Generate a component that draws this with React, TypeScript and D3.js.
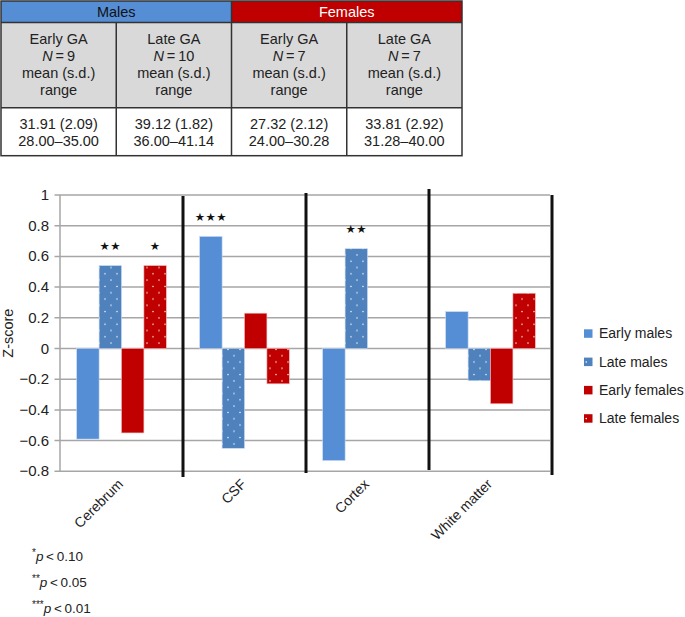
import React from "react";
import * as d3 from "d3";

// ---------- data ----------
const categories = ["Cerebrum", "CSF", "Cortex", "White matter"];
const seriesNames = ["Early males", "Late males", "Early females", "Late females"];
const earlyMales = [-0.59, 0.73, -0.73, 0.24];
const lateMales = [0.54, -0.65, 0.65, -0.21];
const earlyFemales = [-0.55, 0.23, 0, -0.36];
const lateFemales = [0.54, -0.23, 0, 0.36];
// significance stars [category][series]
const significance = [
  ["", "**", "", "*"],
  ["***", "", "", ""],
  ["", "**", "", ""],
  ["", "", "", ""],
];
const footnotes = [
  { stars: "*", p: "0.10" },
  { stars: "**", p: "0.05" },
  { stars: "***", p: "0.01" },
];

// table data
const groups = ["Males", "Females"];
const gaLabels = ["Early GA", "Late GA", "Early GA", "Late GA"];
const nValues = ["9", "10", "7", "7"];
const means = ["31.91 (2.09)", "39.12 (1.82)", "27.32 (2.12)", "33.81 (2.92)"];
const ranges = ["28.00–35.00", "36.00–41.14", "24.00–30.28", "31.28–40.00"];

const seriesValues = [earlyMales, lateMales, earlyFemales, lateFemales];
const seriesFill = ["#558ed5", "url(#dotBlue)", "#c00000", "url(#dotRed)"];
const FONT = "'Liberation Sans', Arial, Helvetica, sans-serif";
const NARROW = "'Liberation Sans Narrow', 'Liberation Sans', Arial, sans-serif";

export default function App() {
  const W = 685, H = 617;
  // table geometry
  const tX0 = 1, tX1 = 462;
  const colX = d3.scaleBand<number>().domain([0, 1, 2, 3]).range([tX0, tX1]);
  const grpX = d3.scaleBand<number>().domain([0, 1]).range([tX0, tX1]);
  const hY0 = 1, hY1 = 22.5, gY1 = 107.7, tY1 = 155.7;

  // chart geometry
  const x = d3.scaleBand<string>().domain(categories).range([60, 552]);
  const xi = d3.scaleBand<number>().domain([0, 1, 2, 3]).range([0, x.bandwidth()]).paddingOuter(0.745);
  const y = d3.scaleLinear().domain([-0.8, 1]).range([471.3, 195]);
  const ticks = y.ticks(10);
  const fmt = d3.format("~g");
  const sepExt = [[196, 477], [193, 473], [189, 470], [195, 475]];

  return (
    <svg width={W} height={H} style={{ position: "absolute", left: 0, top: 0 }} fontFamily={FONT}>
      <defs>
        <pattern id="dotBlue" width="12" height="12.6" patternUnits="userSpaceOnUse">
          <rect width="12" height="12.6" fill="#4f81bd" />
          <circle cx="3" cy="3" r="0.75" fill="#ffffff" />
          <circle cx="9" cy="9.3" r="0.75" fill="#ffffff" />
        </pattern>
        <pattern id="dotRed" width="12" height="12.6" patternUnits="userSpaceOnUse">
          <rect width="12" height="12.6" fill="#c00000" />
          <circle cx="3" cy="3" r="0.75" fill="#ffffff" />
          <circle cx="9" cy="9.3" r="0.75" fill="#ffffff" />
        </pattern>
      </defs>
      <rect width={W} height={H} fill="#fff" />

      {/* ---------- table ---------- */}
      <g fontSize={14.5} fill="#222" fontFamily={NARROW}>
        {groups.map((g, i) => (
          <g key={g}>
            <rect x={grpX(i)} y={hY0} width={grpX.bandwidth()} height={hY1 - hY0} fill={i === 0 ? "#558ed5" : "#c00000"} />
            <text x={(grpX(i) as number) + grpX.bandwidth() / 2} y={(hY0 + hY1) / 2 + 5} textAnchor="middle" fill={i === 0 ? "#111" : "#fff"}>{g}</text>
          </g>
        ))}
        <rect x={tX0} y={hY1} width={tX1 - tX0} height={gY1 - hY1} fill="#d9d9d9" />
        {gaLabels.map((lab, i) => {
          const cx = (colX(i) as number) + colX.bandwidth() / 2;
          return (
            <g key={i} textAnchor="middle">
              <text x={cx} y={43.5}>{lab}</text>
              <text x={cx} y={60.5}><tspan fontStyle="italic">N</tspan>{"\u2009=\u2009" + nValues[i]}</text>
              <text x={cx} y={77.5}>mean (s.d.)</text>
              <text x={cx} y={94.5}>range</text>
              <text x={cx} y={129}>{means[i]}</text>
              <text x={cx} y={146}>{ranges[i]}</text>
            </g>
          );
        })}
        {/* borders */}
        <g stroke="#333" strokeWidth={1.5} fill="none">
          <rect x={tX0} y={hY0} width={tX1 - tX0} height={tY1 - hY0} />
          <line x1={tX0} x2={tX1} y1={hY1} y2={hY1} />
          <line x1={tX0} x2={tX1} y1={gY1} y2={gY1} />
          {[1, 2, 3].map((i) => (
            <line key={i} x1={colX(i)} x2={colX(i)} y1={i === 2 ? hY0 : hY1} y2={tY1} />
          ))}
        </g>
      </g>

      {/* ---------- chart ---------- */}
      <g>
        {/* gridlines */}
        {ticks.map((t) => (
          <line key={t} x1={54.5} x2={550} y1={y(t)} y2={y(t)} stroke="#a6a6a6" strokeWidth={1.5} />
        ))}
        {/* y axis */}
        <line x1={60} x2={60} y1={y(1)} y2={y(-0.8)} stroke="#a6a6a6" strokeWidth={1.5} />
        {ticks.map((t) => (
          <text key={t} x={49} y={y(t) + 5} textAnchor="end" fontSize={15} fill="#222">{fmt(t)}</text>
        ))}
        <text transform={`translate(13,${(y(1) + y(-0.8)) / 2}) rotate(-90)`} textAnchor="middle" fontSize={14.5} fill="#222">Z-score</text>
        {/* x axis ticks at zero */}
        {categories.map((c) => (
          <line key={c} x1={(x(c) as number) + x.bandwidth()} x2={(x(c) as number) + x.bandwidth()} y1={y(0)} y2={y(0) + 4} stroke="#a6a6a6" strokeWidth={1.5} />
        ))}
        {/* bars */}
        {categories.map((c, ci) => (
          <g key={c} transform={`translate(${x(c)},0)`}>
            {seriesValues.map((vals, si) => {
              const v = vals[ci];
              if (v === 0) return null;
              const y0 = y(Math.max(0, v));
              const h = Math.abs(y(v) - y(0));
              return (
                <rect key={si} x={xi(si)} y={y0} width={xi.bandwidth()} height={h} fill={seriesFill[si]}
                  stroke={si < 2 ? "#c6d9f1" : "#f2b8b8"} strokeWidth={0.6} />
              );
            })}
            {seriesValues.map((vals, si) => {
              const s = significance[ci][si];
              if (!s) return null;
              return (
                <text key={"s" + si} x={(xi(si) as number) + xi.bandwidth() / 2} y={y(Math.max(0, vals[ci])) - 15.5}
                  textAnchor="middle" fontSize={11.5} letterSpacing={0.5} fontFamily="'DejaVu Sans'" fill="#111">
                  {s.replace(/\*/g, "★")}
                </text>
              );
            })}
          </g>
        ))}
        {/* separators */}
        {categories.map((c, i) => (
          <line key={c} x1={(x(c) as number) + x.bandwidth()} x2={(x(c) as number) + x.bandwidth()}
            y1={sepExt[i][0]} y2={sepExt[i][1]} stroke="#111" strokeWidth={3} />
        ))}
        {/* x labels */}
        {categories.map((c) => (
          <text key={c} transform={`translate(${(x(c) as number) + x.bandwidth() / 2 + 2.5},${485}) rotate(-45)`}
            textAnchor="end" fontSize={14} fill="#222">{c}</text>
        ))}
        {/* legend */}
        {seriesNames.map((s, i) => (
          <g key={s} transform={`translate(584,${333.3 + i * 28.3})`}>
            <rect x={0} y={-4} width={8.5} height={8.5} fill={i % 2 === 0 ? seriesFill[i] : (i === 1 ? "#4f81bd" : "#c00000")} />
            {i % 2 === 1 && <circle cx={2.2} cy={0.4} r={0.8} fill="#fff" />}
            <text x={15} y={5} fontSize={14} fill="#222">{s}</text>
          </g>
        ))}
        {/* footnotes */}
        {footnotes.map((f, i) => (
          <text key={i} x={32} y={561 + i * 26} fontSize={13.5} fill="#222">
            <tspan fontSize={10} dy={-5}>{f.stars}</tspan>
            <tspan fontStyle="italic" dy={5}>p</tspan>
            <tspan>{"\u2009<\u2009" + f.p}</tspan>
          </text>
        ))}
      </g>
    </svg>
  );
}
